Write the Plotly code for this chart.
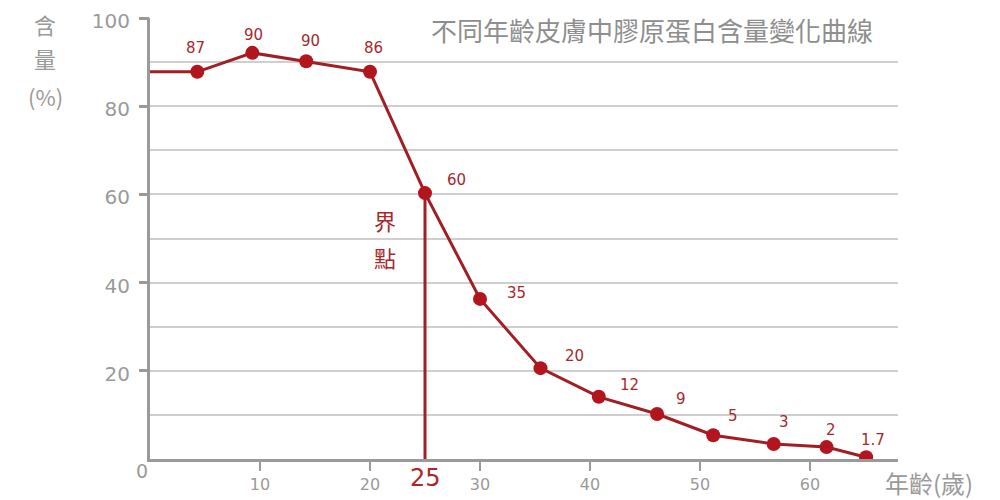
import plotly.graph_objects as go

# ---- data ----
ages = [4.3, 9.3, 14.2, 20, 25, 30, 35.5, 40.8, 46.1, 51.2, 56.7, 61.5, 65.1]
collagen = [87.8, 92.1, 90.2, 87.8, 60.3, 36.3, 20.6, 14.1, 10.2, 5.4, 3.4, 2.7, 0.4]
value_labels = ["87", "90", "90", "86", "60", "35", "20", "12", "9", "5", "3", "2", "1.7"]
line_start_age = 0
critical_age = 25
x_tick_vals = [10, 20, 30, 40, 50, 60]
x_tick_text = ["10", "20", "30", "40", "50", "60"]
y_tick_vals = [20, 40, 60, 80, 100]
y_tick_text = ["20", "40", "60", "80", "100"]
y_grid_vals = [10, 20, 30, 40, 50, 60, 70, 80, 90]
title_text = "不同年齡皮膚中膠原蛋白含量變化曲線"
y_title_parts = ["含", "量", "(%)"]
x_title_text = "年齡(歲)"
critical_text = ["界", "點"]

# ---- styling ----
LINE_RED = "#a11e24"
MARK_RED = "#b3151f"
TEXT_RED = "#a8282c"
GREY = "#9a9a9a"
GRID = "#cfcfcf"
NUM_FONT = "DejaVu Sans"
CJK_FONT = "Noto Sans CJK TC"
label_offsets = [(-2, 24), (1, 18), (4, 20), (3, 24), (31, 13), (36, 6), (34, 12),
                 (31, 12), (24, 15), (20, 19), (10, 22), (4, 17), (7, 17)]

crit_value = collagen[ages.index(critical_age)]

fig = go.Figure()

# vertical critical-point line
fig.add_trace(go.Scatter(
    x=[critical_age, critical_age], y=[0, crit_value], mode="lines",
    line=dict(color=LINE_RED, width=3), hoverinfo="skip", showlegend=False))

# main curve
fig.add_trace(go.Scatter(
    x=[line_start_age] + ages, y=[collagen[0]] + collagen, mode="lines",
    line=dict(color=LINE_RED, width=3), showlegend=False))
fig.add_trace(go.Scatter(
    x=ages, y=collagen, mode="markers",
    marker=dict(color=MARK_RED, size=14), showlegend=False))

annotations = []
for a, v, t, (dx, dy) in zip(ages, collagen, value_labels, label_offsets):
    annotations.append(dict(x=a, y=v, xref="x", yref="y", text=t, showarrow=False,
                            xshift=dx, yshift=dy,
                            font=dict(family=NUM_FONT, size=15, color=TEXT_RED)))

# title
annotations.append(dict(x=0.671, y=0.973, xref="paper", yref="paper", text=title_text,
                        showarrow=False, xanchor="center", yanchor="middle",
                        font=dict(family=CJK_FONT, size=26, color="#8e8e8e")))
# y-axis title (stacked)
for txt, yy in zip(y_title_parts, [0.986, 0.910, 0.823]):
    annotations.append(dict(x=-0.140, y=yy, xref="paper", yref="paper", text=txt,
                            showarrow=False, xanchor="center", yanchor="middle",
                            font=dict(family=CJK_FONT, size=22, color=GREY)))
# x-axis title
annotations.append(dict(x=1.041, y=-0.054, xref="paper", yref="paper", text=x_title_text,
                        showarrow=False, xanchor="center", yanchor="middle",
                        font=dict(family=CJK_FONT, size=24, color=GREY)))
# critical point text
for txt, yy in zip(critical_text, [54.2, 45.8]):
    annotations.append(dict(x=21.36, y=yy, xref="x", yref="y", text=txt, showarrow=False,
                            xanchor="center", yanchor="middle",
                            font=dict(family=CJK_FONT, size=22, color=TEXT_RED)))
# "25" special label
annotations.append(dict(x=critical_age, y=0, xref="x", yref="paper", text=str(critical_age),
                        showarrow=False, xanchor="center", yanchor="middle", yshift=-19,
                        font=dict(family=NUM_FONT, size=24, color=TEXT_RED)))
# origin "0"
annotations.append(dict(x=0, y=0, xref="x", yref="paper", text="0",
                        showarrow=False, xanchor="center", yanchor="middle",
                        xshift=-8, yshift=-12,
                        font=dict(family=NUM_FONT, size=19, color=GREY)))

# the page body adds an 8px offset, so the figure is 8px smaller and margins shifted
fig.update_layout(
    width=992, height=492,
    margin=dict(l=142, r=102, t=10, b=41, autoexpand=False),
    paper_bgcolor="white", plot_bgcolor="white",
    annotations=annotations,
    xaxis=dict(range=[0, 68], tickvals=x_tick_vals, ticktext=x_tick_text, automargin=False,
               showgrid=False, zeroline=False, showline=True, linecolor=GREY, linewidth=3,
               ticks="outside", ticklen=9, tickwidth=2, tickcolor=GREY,
               tickfont=dict(family=NUM_FONT, size=16, color=GREY)),
    yaxis=dict(range=[0, 100], tickvals=y_grid_vals, showticklabels=False, ticks="",
               showgrid=True, gridcolor=GRID, gridwidth=1.5, zeroline=False, automargin=False,
               showline=True, linecolor=GREY, linewidth=3),
    yaxis2=dict(range=[0, 100], overlaying="y", side="left", tickvals=y_tick_vals,
                ticktext=y_tick_text, showgrid=False, zeroline=False, showline=False,
                automargin=False, ticklabeloverflow="allow", ticklabelstandoff=5,
                ticklabelshift=3,
                ticks="outside", ticklen=10, tickwidth=3, tickcolor=GREY,
                tickfont=dict(family=NUM_FONT, size=20, color=GREY)),
)
# dummy trace to activate yaxis2
fig.add_trace(go.Scatter(x=[None], y=[None], yaxis="y2", showlegend=False, hoverinfo="skip"))

fig.write_html("out.html")
